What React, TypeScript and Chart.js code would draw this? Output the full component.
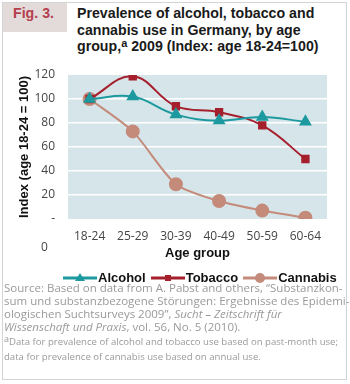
import React, { useEffect, useRef } from "react";
import { Chart, registerables } from "chart.js";

Chart.register(...registerables);

const categories = ["18-24", "25-29", "30-39", "40-49", "50-59", "60-64"];
const alcohol = [100, 102, 87, 82, 85, 81];
const tobacco = [100, 119, 94, 89, 78, 50];
const cannabis = [100, 73, 29, 15, 7, 1];
const yTicks = [0, 20, 40, 60, 80, 100, 120];

const TEAL = "#1d9aa0";
const RED = "#a51f2d";
const TAN = "#c48a7a";
const PLOT_BG = "#d6e5e9";

const bgPlugin = {
  id: "plotBg",
  beforeDraw(chart: any) {
    const { ctx, chartArea } = chart;
    ctx.save();
    ctx.fillStyle = PLOT_BG;
    ctx.fillRect(chartArea.left, chartArea.top, chartArea.right - chartArea.left, chartArea.bottom - chartArea.top);
    ctx.restore();
  },
};

function LegendItem({ color, shape, label }: { color: string; shape: string; label: string }) {
  let marker: any = null;
  if (shape === "triangle") marker = <polygon points="17,1 22,9 12,9" fill={color} />;
  if (shape === "square") marker = <rect x="14" y="3" width="6" height="6" fill={color} />;
  if (shape === "circle") marker = <circle cx="17" cy="6" r="5" fill={color} />;
  return (
    <span style={{ display: "inline-flex", alignItems: "center", marginRight: 5 }}>
      <svg width="34" height="12" style={{ display: "block" }}>
        <line x1="0" y1="6" x2="34" y2="6" stroke={color} strokeWidth="3" />
        {marker}
      </svg>
      <span style={{ marginLeft: 1 }}>{label}</span>
    </span>
  );
}

export default function App() {
  const ref = useRef<HTMLCanvasElement>(null);
  useEffect(() => {
    if (!ref.current) return;
    const chart = new Chart(ref.current, {
      type: "line",
      data: {
        labels: categories,
        datasets: [
          {
            label: "Alcohol",
            data: alcohol,
            borderColor: TEAL,
            backgroundColor: TEAL,
            pointStyle: "triangle",
            pointRadius: 5.5,
            borderWidth: 2,
            tension: 0.4,
          },
          {
            label: "Tobacco",
            data: tobacco,
            borderColor: RED,
            backgroundColor: RED,
            pointStyle: "rect",
            pointRadius: 4.5,
            borderWidth: 2,
            tension: 0.4,
          },
          {
            label: "Cannabis",
            data: cannabis,
            borderColor: TAN,
            backgroundColor: TAN,
            pointStyle: "circle",
            pointRadius: 6,
            borderWidth: 2,
            tension: 0.25,
          },
        ],
      },
      options: {
        animation: false,
        responsive: false,
        maintainAspectRatio: false,
        layout: { padding: { top: 15, right: 13, bottom: 0, left: 17 } },
        plugins: { legend: { display: false }, tooltip: { enabled: false } },
        scales: {
          x: {
            offset: true,
            afterFit(axis: any) {
              axis.height = 42;
              axis.paddingLeft = 0;
              axis.paddingRight = 0;
            },
            grid: { display: false, drawTicks: false },
            border: { display: false },
            ticks: { color: "#444", font: { family: "Open Sans", size: 12 }, padding: 10 },
            title: {
              display: true,
              text: "Age group",
              color: "#111",
              font: { family: "Liberation Sans", size: 13, weight: "bold" },
              padding: { top: 0, bottom: 0 },
            },
          },
          y: {
            min: 0,
            max: 120,
            afterBuildTicks(axis: any) {
              axis.ticks = yTicks.map((v) => ({ value: v }));
            },
            afterFit(axis: any) {
              axis.width = 51;
              axis.paddingTop = 0;
              axis.paddingBottom = 0;
            },
            grid: {
              color: (c: any) => (c.tick && c.tick.value > 0 && c.tick.value < 120 ? "#ffffff" : "rgba(0,0,0,0)"),
              lineWidth: 1.5,
              drawTicks: false,
            },
            border: { display: false },
            ticks: {
              color: "#444",
              font: { family: "Open Sans", size: 12 },
              padding: 13,
              callback: (v: any) => (v === 0 ? "-" : String(v)),
            },
            title: {
              display: true,
              text: "Index (age 18-24 = 100)",
              color: "#111",
              font: { family: "Liberation Sans", size: 13, weight: "bold" },
              padding: { top: 0, bottom: 0 },
            },
          },
        },
      },
      plugins: [bgPlugin],
    });
    return () => chart.destroy();
  }, []);

  return (
    <div
      style={{
        position: "absolute",
        left: 0,
        top: 0,
        width: 350,
        height: 384,
        background: "#fff",
        overflow: "hidden",
      }}
    >
      <div
        style={{
          position: "absolute",
          left: 2,
          top: 2,
          width: 345,
          height: 378,
          border: "1px solid #d4d4d4",
          boxSizing: "border-box",
        }}
      />
      <div
        style={{
          position: "absolute",
          left: 3,
          top: 3,
          width: 64,
          height: 29,
          background: "#e3dada",
        }}
      />
      <div
        style={{
          position: "absolute",
          left: 13,
          top: 5,
          color: "#b5404e",
          font: "bold 14.2px 'Liberation Sans', Arial, sans-serif",
          lineHeight: "17px",
        }}
      >
        Fig. 3.
      </div>
      <div
        style={{
          position: "absolute",
          left: 77,
          top: 5,
          width: 270,
          color: "#1a1a1a",
          font: "bold 14.2px 'Liberation Sans', Arial, sans-serif",
          lineHeight: "16.5px",
        }}
      >
        Prevalence of alcohol, tobacco and
        <br />
        cannabis use in Germany, by age
        <br />
        group,<sup style={{ fontSize: 11, verticalAlign: "4px", lineHeight: 0 }}>a</sup> 2009 (Index: age 18-24=100)
      </div>
      <canvas ref={ref} width={340} height={201} style={{ position: "absolute", left: 0, top: 60 }} />
      <div
        style={{
          position: "absolute",
          left: 41,
          top: 238,
          color: "#444",
          font: "12px 'Open Sans', sans-serif",
        }}
      >
        0
      </div>
      <div
        style={{
          position: "absolute",
          left: 63,
          top: 270,
          display: "flex",
          alignItems: "center",
          color: "#111",
          font: "bold 13px 'Liberation Sans', Arial, sans-serif",
          whiteSpace: "nowrap",
        }}
      >
        <LegendItem color={TEAL} shape="triangle" label="Alcohol" />
        <LegendItem color={RED} shape="square" label="Tobacco" />
        <LegendItem color={TAN} shape="circle" label="Cannabis" />
      </div>
      <div
        style={{
          position: "absolute",
          left: 4,
          top: 281,
          width: 346,
          color: "#9a9a9a",
          font: "11.5px 'Open Sans', sans-serif",
          lineHeight: "13.1px",
          whiteSpace: "nowrap",
        }}
      >
        Source: Based on data from A. Pabst and others, “Substanzkon-
        <br />
        sum und substanzbezogene Störungen: Ergebnisse des Epidemi-
        <br />
        ologischen Suchtsurveys 2009”, <i>Sucht – Zeitschrift für</i>
        <br />
        <i>Wissenschaft und Praxis</i>, vol. 56, No. 5 (2010).
        <div style={{ fontSize: 9.6, lineHeight: "15px", marginTop: 1 }}>
          <sup style={{ fontSize: 9, verticalAlign: "3px", lineHeight: 0 }}>a</sup>Data for prevalence of alcohol and tobacco use based on past-month use;
          <br />
          data for prevalence of cannabis use based on annual use.
        </div>
      </div>
    </div>
  );
}
